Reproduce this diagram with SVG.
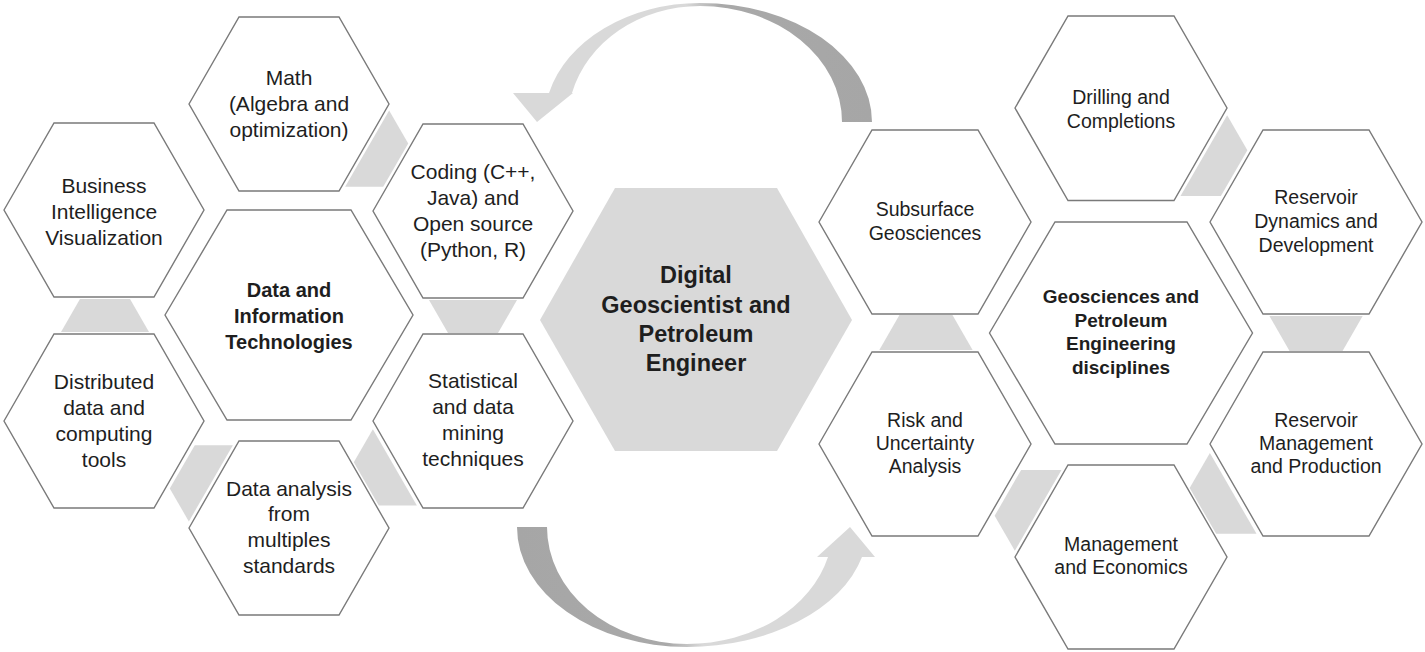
<svg xmlns="http://www.w3.org/2000/svg" width="1425" height="652" viewBox="0 0 1425 652">
<defs>
<style>
.hx{fill:#fff;stroke:#7a7a7a;stroke-width:1.4;stroke-linejoin:miter}
.core{fill:#d9d9d9}
.lk{fill:#d9d9d9}
text{font-family:"Liberation Sans",Arial,sans-serif;fill:#1e1e1e;text-anchor:middle}
.l{font-size:21px}
.lb{font-size:20px;font-weight:bold}
.c{font-size:23.5px;font-weight:bold}
.r{font-size:19.5px}
.rb{font-size:19px;font-weight:bold}
</style>
<linearGradient id="gradBottom" gradientUnits="userSpaceOnUse" x1="517" y1="0" x2="875" y2="0">
<stop offset="0" stop-color="#a6a6a6"/>
<stop offset="0.42" stop-color="#a9a9a9"/>
<stop offset="0.52" stop-color="#d9d9d9"/>
<stop offset="1" stop-color="#d9d9d9"/>
</linearGradient>
<linearGradient id="gradTop" href="#gradBottom" gradientUnits="userSpaceOnUse" x1="872" y1="0" x2="513" y2="0"/>
<polygon id="link" points="429,300 517,300 498,333 448,333"/>
</defs>
<rect width="1425" height="652" fill="#fff"/>

<g id="connectors">
  <g id="cycle-arrows">
    <path id="arrow-top" fill="url(#gradTop)" d="M872,122 A172,119 0 0 0 700,3 A155.7,119 0 0 0 549,93 L513,93 L537,122 L573,93 L572,93 A132.2,116 0 0 1 700,6 A142,116 0 0 1 842,122 Z"/>
    <path id="arrow-bottom" fill="url(#gradBottom)" d="M517,527 A170,120 0 0 0 687,647 A181,120 0 0 0 862,557 L875,557 L850,527 L817,557 L828,557 A146,117 0 0 1 687,644 A140,117 0 0 1 547,527 Z"/>
  </g>
  <g id="left-links" class="lk">
    <use href="#link" transform="rotate(-60 289 316)"/>
    <use href="#link"/>
    <use href="#link" transform="rotate(60 289 316)"/>
    <use href="#link" transform="rotate(120 289 316)"/>
    <use href="#link" transform="rotate(180 289 316)"/>
  </g>
  <g id="right-links" class="lk" transform="matrix(1.06 0 0 1.06 814.66 -1.96)">
    <use href="#link" transform="rotate(-60 289 316)"/>
    <use href="#link"/>
    <use href="#link" transform="rotate(60 289 316)"/>
    <use href="#link" transform="rotate(120 289 316)"/>
    <use href="#link" transform="rotate(180 289 316)"/>
  </g>
</g>

<g id="node-math">
  <polygon class="hx" points="189,104 239,17 339,17 389,104 339,191 239,191"/>
  <text class="l"><tspan x="289" y="85">Math</tspan><tspan x="289" y="111">(Algebra and</tspan><tspan x="289" y="137">optimization)</tspan></text>
</g>
<g id="node-bi">
  <polygon class="hx" points="4,210 54,123 154,123 204,210 154,297 54,297"/>
  <text class="l"><tspan x="104" y="193">Business</tspan><tspan x="104" y="219">Intelligence</tspan><tspan x="104" y="245">Visualization</tspan></text>
</g>
<g id="node-coding">
  <polygon class="hx" points="373,211 423,124 523,124 573,211 523,298 423,298"/>
  <text class="l"><tspan x="473" y="179">Coding (C++,</tspan><tspan x="473" y="205">Java) and</tspan><tspan x="473" y="231">Open source</tspan><tspan x="473" y="257">(Python, R)</tspan></text>
</g>
<g id="node-data-info">
  <polygon class="hx" points="165,315 227,210 351,210 413,315 351,420 227,420"/>
  <text class="lb"><tspan x="289" y="297">Data and</tspan><tspan x="289" y="323">Information</tspan><tspan x="289" y="349">Technologies</tspan></text>
</g>
<g id="node-distributed">
  <polygon class="hx" points="4,421 54,334 154,334 204,421 154,508 54,508"/>
  <text class="l"><tspan x="104" y="389">Distributed</tspan><tspan x="104" y="415">data and</tspan><tspan x="104" y="441">computing</tspan><tspan x="104" y="467">tools</tspan></text>
</g>
<g id="node-statistical">
  <polygon class="hx" points="373,421 423,334 523,334 573,421 523,508 423,508"/>
  <text class="l"><tspan x="473" y="388">Statistical</tspan><tspan x="473" y="414">and data</tspan><tspan x="473" y="440">mining</tspan><tspan x="473" y="466">techniques</tspan></text>
</g>
<g id="node-data-analysis">
  <polygon class="hx" points="189,528 239,441 339,441 389,528 339,615 239,615"/>
  <text class="l"><tspan x="289" y="496">Data analysis</tspan><tspan x="289" y="521">from</tspan><tspan x="289" y="547">multiples</tspan><tspan x="289" y="573">standards</tspan></text>
</g>

<g id="node-center">
  <polygon class="core" points="540,320 615,188 777,188 852,320 777,451 615,451"/>
  <text class="c"><tspan x="696" y="283">Digital</tspan><tspan x="696" y="313">Geoscientist and</tspan><tspan x="696" y="342">Petroleum</tspan><tspan x="696" y="371">Engineer</tspan></text>
</g>

<g id="node-drilling">
  <polygon class="hx" points="1015,108 1068,16 1174,16 1227,108 1174,200.5 1068,200.5"/>
  <text class="r"><tspan x="1121" y="104">Drilling and</tspan><tspan x="1121" y="128">Completions</tspan></text>
</g>
<g id="node-subsurface">
  <polygon class="hx" points="819,222 872,130 978,130 1031,222 978,314 872,314"/>
  <text class="r"><tspan x="925" y="216">Subsurface</tspan><tspan x="925" y="240">Geosciences</tspan></text>
</g>
<g id="node-res-dynamics">
  <polygon class="hx" points="1210,222 1263,130 1369,130 1422,222 1369,314 1263,314"/>
  <text class="r"><tspan x="1316" y="204">Reservoir</tspan><tspan x="1316" y="228">Dynamics and</tspan><tspan x="1316" y="252">Development</tspan></text>
</g>
<g id="node-geo-pe">
  <polygon class="hx" points="989.5,333 1055,222 1187,222 1252.5,333 1187,444 1055,444"/>
  <text class="rb"><tspan x="1121" y="303">Geosciences and</tspan><tspan x="1121" y="327">Petroleum</tspan><tspan x="1121" y="350">Engineering</tspan><tspan x="1121" y="374">disciplines</tspan></text>
</g>
<g id="node-risk">
  <polygon class="hx" points="819,444 872,352 978,352 1031,444 978,536 872,536"/>
  <text class="r"><tspan x="925" y="427">Risk and</tspan><tspan x="925" y="450">Uncertainty</tspan><tspan x="925" y="473">Analysis</tspan></text>
</g>
<g id="node-res-mgmt">
  <polygon class="hx" points="1210,444 1263,352 1369,352 1422,444 1369,536 1263,536"/>
  <text class="r"><tspan x="1316" y="427">Reservoir</tspan><tspan x="1316" y="450">Management</tspan><tspan x="1316" y="473">and Production</tspan></text>
</g>
<g id="node-mgmt-econ">
  <polygon class="hx" points="1015,557 1068,465 1174,465 1227,557 1174,649 1068,649"/>
  <text class="r"><tspan x="1121" y="551">Management</tspan><tspan x="1121" y="574">and Economics</tspan></text>
</g>
</svg>
